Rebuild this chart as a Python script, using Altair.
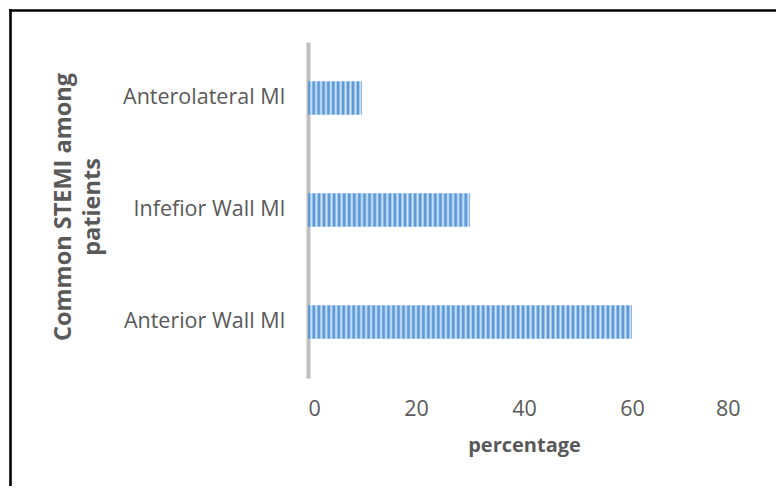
import altair as alt
import pandas as pd

categories = ["Anterolateral MI", "Infefior Wall MI", "Anterior Wall MI"]
values = [10, 30, 60]
x_ticks = [0, 20, 40, 60, 80]
x_title = "percentage"
y_title = ["Common STEMI among", "patients"]

W, H = 432, 336
X_MAX = 80
PAD_L, PAD_T = 308, 42
TOTAL_W, TOTAL_H = 776, 486
FONT = "Open Sans"
TXT = "#595959"

df = pd.DataFrame({"cat": categories, "val": values})


def stripe_gradient(v, period=5.0):
    length = v * W / X_MAX
    n = max(1, int(round(length / period)))
    dark, mid, light = "#5f9ad8", "#97bfea", "#d4e6f8"
    stops = []
    for k in range(n):
        a = k / n
        step = 1.0 / n
        stops += [
            alt.GradientStop(color=dark, offset=a),
            alt.GradientStop(color=dark, offset=a + step * 0.3),
            alt.GradientStop(color=mid, offset=a + step * 0.45),
            alt.GradientStop(color=light, offset=a + step * 0.65),
            alt.GradientStop(color=mid, offset=a + step * 0.88),
        ]
    stops.append(alt.GradientStop(color=dark, offset=1.0))
    return alt.Gradient(gradient="linear", stops=stops, x1=0, x2=1, y1=0, y2=0)


y_enc = alt.Y(
    "cat:N",
    sort=categories,
    scale=alt.Scale(paddingInner=0.7, paddingOuter=0.35),
    axis=alt.Axis(
        title=y_title,
        titleFont=FONT, titleFontSize=23.5, titleFontWeight="bold", titleColor=TXT,
        titleX=-238, titleY=164.5, titleAlign="center", titleBaseline="alphabetic",
        titleAngle=270, titleLineHeight=29,
        labelFont=FONT, labelFontSize=21.5, labelColor=TXT, labelPadding=23,
        ticks=False, tickSize=0, domainColor="#bfbfbf", domainWidth=4, grid=False,
    ),
)
x_enc = alt.X(
    "val:Q",
    scale=alt.Scale(domain=[0, X_MAX]),
    axis=alt.Axis(
        values=x_ticks, title=x_title,
        titleFont=FONT, titleFontSize=20, titleFontWeight="bold", titleColor=TXT, titlePadding=16,
        labelFont=FONT, labelFontSize=21.5, labelColor=TXT, labelPadding=20,
        ticks=False, tickSize=0, domain=False, grid=False,
    ),
)

layers = []
for c, v in zip(categories, values):
    layers.append(
        alt.Chart(df).transform_filter(alt.datum.cat == c)
        .mark_bar(fill=stripe_gradient(v), stroke=None)
        .encode(x=x_enc, y=y_enc)
    )

frame = pd.DataFrame({"a": [0]})
top_line = alt.Chart(frame).mark_rect(color="black").encode(
    x=alt.value(9 - PAD_L), x2=alt.value(TOTAL_W - PAD_L),
    y=alt.value(9.2 - PAD_T), y2=alt.value(11.8 - PAD_T),
)
left_line = alt.Chart(frame).mark_rect(color="black").encode(
    x=alt.value(9.2 - PAD_L), x2=alt.value(11.8 - PAD_L),
    y=alt.value(9 - PAD_T), y2=alt.value(TOTAL_H - PAD_T),
)

chart = alt.layer(*layers, top_line, left_line).properties(
    width=W, height=H,
    autosize=alt.AutoSizeParams(type="none"),
    padding={"left": PAD_L, "top": PAD_T, "right": TOTAL_W - PAD_L - W,
             "bottom": TOTAL_H - PAD_T - H},
    background="white",
).configure_view(stroke=None)

chart.save("out.html", embed_options={"renderer": "svg", "actions": False})
